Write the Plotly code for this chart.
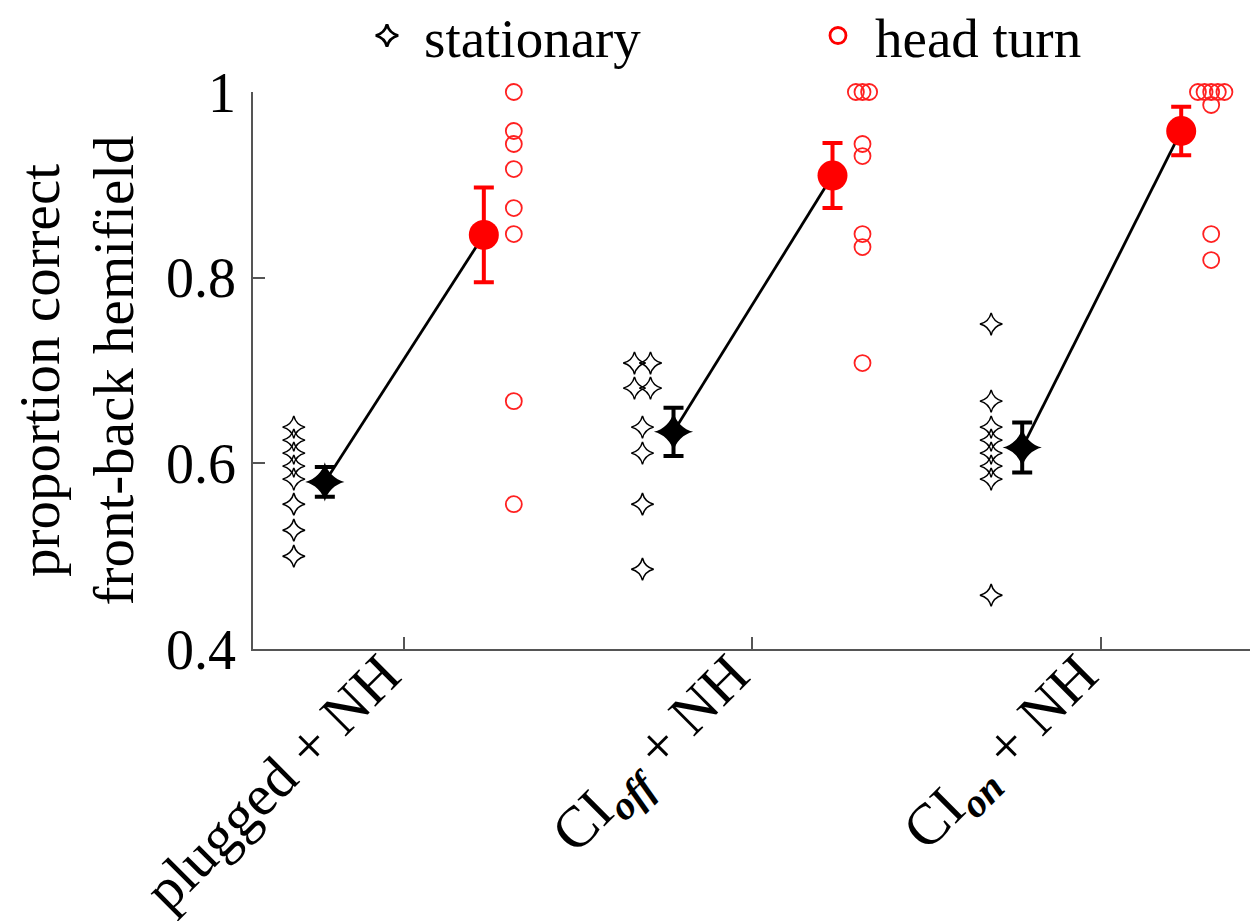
import numpy as np
import plotly.graph_objects as go

# ---------------- data ----------------
groups = ["plugged + NH",
          "CI<sub><b><i>off</i></b></sub> + NH",
          "CI<sub><b><i>on</i></b></sub> + NH"]
group_pos = [1, 2, 3]

stationary = [
    [0.639, 0.625, 0.611, 0.597, 0.583, 0.556, 0.528, 0.500],
    [0.708, 0.708, 0.681, 0.681, 0.639, 0.611, 0.556, 0.486],
    [0.750, 0.667, 0.639, 0.625, 0.611, 0.597, 0.583, 0.458],
]
head_turn = [
    [1.000, 0.958, 0.944, 0.917, 0.875, 0.847, 0.667, 0.556],
    [1.000, 1.000, 1.000, 0.944, 0.931, 0.847, 0.833, 0.708],
    [1.000, 1.000, 1.000, 1.000, 1.000, 0.986, 0.847, 0.819],
]
stationary_mean = [0.580, 0.634, 0.617]
stationary_err = [0.016, 0.026, 0.027]
head_mean = [0.846, 0.910, 0.958]
head_err = [0.051, 0.035, 0.026]

legend_names = ["stationary", "head turn"]
y_ticks = [0.4, 0.6, 0.8, 1.0]
y_ticktext = ["0.4", "0.6", "0.8", "1"]

# ---------------- layout constants ----------------
OFF_IND_S, OFF_MEAN_S, OFF_MEAN_H, OFF_IND_H = -0.315, -0.226, 0.23, 0.316
STEP_DIAMOND, STEP_CIRCLE = 0.046, 0.019
FONT = "Liberation Serif, Times New Roman, serif"
RED = "#ff0000"
PAD = "\u00a0\u00a0"   # trailing pad to pull the rotated labels to the left


def spread(pos, vals, step):
    """x positions: duplicated values are placed side by side."""
    xs = []
    seen = {}
    for v in vals:
        n = vals.count(v)
        k = seen.get(v, 0)
        seen[v] = k + 1
        xs.append(pos + (k - (n - 1) / 2) * step)
    return xs


xs_s, ys_s, xs_h, ys_h = [], [], [], []
for p, sv, hv in zip(group_pos, stationary, head_turn):
    xs_s += spread(p + OFF_IND_S, sv, STEP_DIAMOND)
    ys_s += sv
    xs_h += spread(p + OFF_IND_H, hv, STEP_CIRCLE)
    ys_h += hv

line_x, line_y = [], []
for p, sm, hm in zip(group_pos, stationary_mean, head_mean):
    line_x += [p + OFF_MEAN_S, p + OFF_MEAN_H, None]
    line_y += [sm, hm, None]

fig = go.Figure()

fig.add_trace(go.Scatter(x=line_x, y=line_y, mode="lines",
                         line=dict(color="black", width=2.8),
                         showlegend=False, hoverinfo="skip", cliponaxis=False))

fig.add_trace(go.Scatter(x=xs_s, y=ys_s, mode="markers", name=legend_names[0],
                         showlegend=False,
                         marker=dict(symbol="star-diamond-open", size=16,
                                     color="black", line=dict(color="black", width=1.5)),
                         cliponaxis=False))
fig.add_trace(go.Scatter(x=xs_h, y=ys_h, mode="markers", name=legend_names[1],
                         showlegend=False,
                         marker=dict(symbol="circle-open", size=16,
                                     color="#ff2020", line=dict(color="#ff2020", width=1.8)),
                         cliponaxis=False))

fig.add_trace(go.Scatter(x=[p + OFF_MEAN_S for p in group_pos], y=stationary_mean,
                         mode="markers", showlegend=False,
                         error_y=dict(type="data", array=stationary_err, color="black",
                                      thickness=4, width=10),
                         marker=dict(symbol="star-diamond", size=28, color="black"),
                         cliponaxis=False))
fig.add_trace(go.Scatter(x=[p + OFF_MEAN_H for p in group_pos], y=head_mean,
                         mode="markers", showlegend=False,
                         error_y=dict(type="data", array=head_err, color=RED,
                                      thickness=4, width=10),
                         marker=dict(symbol="circle", size=30, color=RED),
                         cliponaxis=False))

# legend entries (bigger symbols, as in the reference legend)
fig.add_trace(go.Scatter(x=[None], y=[None], mode="markers", name=legend_names[0],
                         marker=dict(symbol="star-diamond-open", size=16, color="black",
                                     line=dict(color="black", width=2.8))))
fig.add_trace(go.Scatter(x=[None], y=[None], mode="markers", name=legend_names[1],
                         marker=dict(symbol="circle-open", size=16, color=RED,
                                     line=dict(color=RED, width=2.8))))

axis_common = dict(showline=True, linecolor="#555555", linewidth=1.6,
                   ticks="inside", ticklen=12, tickwidth=1.6, tickcolor="#555555",
                   showgrid=False, zeroline=False, mirror=False, automargin=False)

fig.update_layout(
    width=1258, height=921,
    margin=dict(l=245, r=6, t=84, b=280, autoexpand=False),
    paper_bgcolor="white", plot_bgcolor="white",
    font=dict(family=FONT, color="black", size=54),
    xaxis=dict(range=[0.568, 3.456], tickvals=group_pos,
               ticktext=[g + PAD for g in groups],
               tickangle=-45, tickfont=dict(size=58), ticklabelstandoff=-54,
               **axis_common),
    yaxis=dict(range=[0.4, 1.0], tickvals=y_ticks, ticktext=y_ticktext,
               tickfont=dict(size=56), ticklabelstandoff=4,
               title=dict(text="proportion correct<br>front-back hemifield",
                          font=dict(size=57), standoff=20),
               **axis_common),
    legend=dict(orientation="h", x=0.0963, xanchor="left", y=1.101, yanchor="middle",
                font=dict(size=55), entrywidth=372, itemwidth=64,
                bgcolor="rgba(0,0,0,0)"),
)

fig.write_html("out.html")
